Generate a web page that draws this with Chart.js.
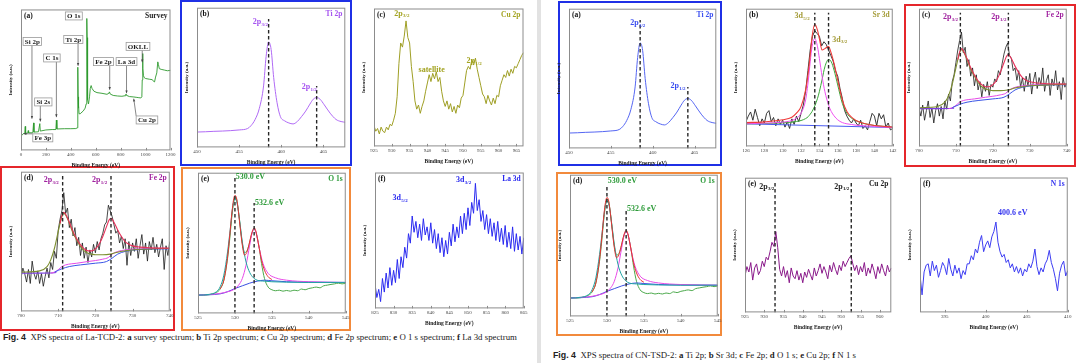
<!DOCTYPE html>
<html>
<head>
<meta charset="utf-8">
<script src="https://cdn.jsdelivr.net/npm/chart.js@4.4.1/dist/chart.umd.min.js"></script>
<style>
  html, body { margin: 0; padding: 0; background: #fff; }
  body { width: 1080px; height: 363px; position: relative; overflow: hidden; font-family: "Liberation Serif", serif; }
  .panel { position: absolute; }
  .panel canvas { display: block; }
  .frame { position: absolute; box-sizing: border-box; }
  .caption { position: absolute; font-size: 8.8px; line-height: 10px; white-space: nowrap; color: #222; }
  .caption .fig { font-family: "Liberation Sans", Arial, sans-serif; font-weight: bold; }
</style>
</head>
<body>
<div class="frame" style="left:537px;top:0;width:4px;height:363px;background:#e2e2e2"></div>
<div class="frame" style="left:180px;top:0;width:172px;height:166px;border:2.5px solid #1f30e6"></div>
<div class="frame" style="left:0;top:166px;width:175px;height:165px;border:2.5px solid #e5262b"></div>
<div class="frame" style="left:181px;top:167px;width:170px;height:164px;border:2.5px solid #f28a3c"></div>
<div class="frame" style="left:558px;top:1px;width:164px;height:165px;border:2.5px solid #1f30e6"></div>
<div class="frame" style="left:904px;top:4px;width:172px;height:163px;border:2.5px solid #e5262b"></div>
<div class="frame" style="left:556px;top:172px;width:166px;height:164px;border:2.5px solid #f28a3c"></div>

<div class="caption" style="left:3px;top:332px"><span class="fig">Fig. 4</span>&nbsp; XPS spectra of La-TCD-2: <b>a</b> survey spectrum; <b>b</b> Ti 2p spectrum; <b>c</b> Cu 2p spectrum; <b>d</b> Fe 2p spectrum; <b>e</b> O 1 s spectrum; <b>f</b> La 3d spectrum</div>
<div class="caption" style="left:553px;top:350px"><span class="fig">Fig. 4</span>&nbsp; XPS spectra of CN-TSD-2: <b>a</b> Ti 2p; <b>b</b> Sr 3d; <b>c</b> Fe 2p; <b>d</b> O 1 s; <b>e</b> Cu 2p; <b>f</b> N 1 s</div>

<script>
// XPS panels, intensities (0 = bottom of frame, 100 = top)

const surveyEnergy = [0,10,20,30,34,37,55,58,61,95,101,104,140,151,155,200,250,280,284,288,350,400,440,452,455,457,459,461,463,466,475,500,515,523,527,529.5,531,533,536,542,550,556,563,570,585,610,650,690,705,710,716,740,775,810,836,842,848,870,906,930,946,962,970,973,976,979,983,990,1000,1030,1054,1066,1072,1080,1090,1098,1103,1110,1125,1150,1175,1200];
const surveyCounts = [11.5,11,12,12,17,12,12.5,14,12.5,12.5,19.5,13,13.2,19,13.7,14.5,14.8,14.8,21.5,15.2,15.4,15.4,15.5,16,25,59,38,30,32,26,26,28,30,33,55,93.6,80,50,36,33,38,44,46,44,42,41,40.5,39.8,40.5,41.5,40,39,38.6,38.4,38.8,40,39,38.2,37.9,37.6,37.4,37.2,38,50,68.7,58,53,51.5,51,50.5,50.2,48.8,48.6,52,55,62.8,61,58,57.5,57,56.5,56.8];

const tiEnergy = [450,451,452,453,454,455,456,456.4,456.9,457.4,457.9,458.2,458.5,458.8,459.1,459.5,459.9,460.4,460.9,461.4,461.9,462.4,462.9,463.4,463.8,464.2,464.6,465.1,465.8,466.5,467.1,467.6];
const tiCounts = [11,11.2,11.5,11.7,12,12.5,13.5,15.5,20,28,44,65,75.5,70,50,32,22,19,17.5,16.8,18.5,22,26,31,34.5,35.7,34.5,30.5,24.5,20,18.5,18];
const tiPeaks = [458.5, 464.2];

// Cu 2p (La-TCD-2), 925 eV onwards every 0.5 eV
const cuACounts = [15,11,13,9,14,11,10,14,12,16,15,19,24,36,60,75,72,80,91,79,75,58,47,33,27,30,24,29,33,40,46,52,47,53,49,54,47,50,40,33,29,33,27,31,25,29,24,30,28,35,37,46,55,58,56,63,59,64,56,50,44,38,36,31,37,33,30,35,31,37,36,44,48,52,50,55,51,56,53,58,57,60,63,66,68];

// Fe 2p raw spectra, 700 eV onwards every 0.5 eV
const feACounts = [24,31,27,21,30,20,36,27,23,29,20,27,18,25,31,24,35,30,43,38,58,66,72,85,70,74,60,66,54,60,47,53,40,49,38,46,35,44,39,48,42,50,44,52,56,62,64,76,72,68,62,56,58,49,54,45,52,33,50,40,49,43,52,38,47,55,41,49,36,50,44,53,42,48,39,46,52,30,47,40,50];
const feBCounts = [28,22,30,19,26,33,21,28,17,26,31,22,29,20,33,27,38,33,47,52,61,70,77,83,68,72,58,63,51,57,44,52,41,47,36,45,40,47,37,45,43,49,47,55,52,60,67,72,75,66,64,55,57,48,55,43,50,40,51,44,53,38,48,54,42,50,45,57,40,48,52,37,49,44,55,41,47,34,50,43,46];
const feOliveEnergy = [700,705,707,708,709,710,711,711.5,712,713,714,715,716,717,718,719,720,722,724,726,728,730,733,736,740];
const feOliveCounts = [28.1,29,32.1,36.9,45.2,57.1,67.9,70.2,69,63.1,56,51.2,46.4,43.3,41.7,41,40.5,40.5,41,42.4,43.3,44,44.5,44.8,45.2];
const feRedEnergy = [710.5,711,711.5,712,713,714,715,716,717,718,719,720,721,722,723,723.7,724.2,725,726,727,728,729,730,732,735,740];
const feRedCounts = [63,68.6,71,69.5,63.8,57.1,51.9,47.6,44.8,43.3,43.3,44.8,48.1,53.6,60.7,65.5,66.7,63.8,58.3,53.6,50,48.1,46.9,46,45.5,45.2];
const feMagentaEnergy = [708,709,710,711,712,715,718,720,722,723.5,724.5,726,728,732,740];
const feMagentaCounts = [27.4,28.1,29.8,32.1,33.3,34.5,35.7,36.4,37.4,38.6,41,42.9,44,44.8,45.2];
const fePurpleEnergy = [700,704,708,709.5];
const fePurpleCounts = [27.4,27.4,27.5,27.8];
const feBlueEnergy = [709,711,713,716,720,723,724.5,726,728,732,740];
const feBlueCounts = [28.1,30.5,32.1,33.3,34.5,35.7,38.1,41,42.9,44.3,44.8];
const fePeaks = [711.2, 724.2];

// O 1s
const oExpEnergy = [525,526,527,527.5,528,528.5,529,529.3,529.6,529.8,530,530.2,530.4,530.7,531,531.3,531.6,531.9,532.2,532.4,532.6,532.8,533,533.3,533.6,534,534.5,535,535.5,536,536.5,537,537.5,538,538.5,539,539.5,540,540.5,541,541.5,542,542.5,543,543.5,544,544.5,545];
const oExpCounts = [13,13,13.9,14.9,17.3,23.6,39,53.2,69.7,78,82.7,81.6,75.7,62.6,49.6,43.3,44.2,48.5,55.1,58.4,59.8,58.4,54.4,46.1,35.5,24.8,18.7,16.8,16.1,16.5,15.8,16.3,15.8,16.5,16.1,17.3,16.8,17.7,18.2,18.7,18.2,19.6,20.1,20.6,21,21.5,21,21.5];
const oFitEnergy = [528,528.5,529,529.3,529.6,529.8,530,530.2,530.4,530.7,531,531.3,531.6,531.9,532.2,532.4,532.6,532.8,533,533.3,533.6,534,534.5,535];
const oFitCounts = [17.3,23.6,40.2,55.6,72.1,80.4,83.9,82.3,75.7,61.5,48.5,41.4,43.3,48.9,55.6,59.1,60.8,59.1,54.4,46.1,37.8,30.7,26,24.1];
const oLatticeEnergy = [525,526.5,527.5,528,528.5,529,529.4,529.7,530,530.3,530.6,531,531.5,532,532.5,533,534,535,537,540,545];
const oLatticeCounts = [13,13.5,15.4,18.9,27.2,43.7,61.5,75.7,81.6,78,67.4,50.8,36.6,29.1,25.3,23.6,22.9,22.5,22.2,22,22];
const oAdsorbEnergy = [525,528,529,529.7,530.5,531,531.5,532,532.3,532.6,532.9,533.3,533.8,534.5,535.5,537,540,545];
const oAdsorbCounts = [13,14.2,15.4,16.5,20.1,24.8,34.3,48.5,56.7,59.8,56.7,46.1,35.5,28.4,25.3,23.6,22.5,22];
const oBgEnergy = [525,528,529,530,531,532,533,534,535,537,540,545];
const oBgCounts = [13,13.9,15.4,17.7,19.6,21.5,22.9,23.6,23.2,22.5,22.2,22];
const oPeaks = [530.0, 532.6];

// La 3d, 825 eV onwards every 0.5 eV
const laCounts = [18,8,14,5,22,12,26,15,30,17,28,19,36,22,38,30,45,37,55,48,68,56,64,52,62,50,66,54,60,50,63,48,58,44,55,41,52,38,50,40,56,46,62,49,60,52,68,55,70,58,74,61,78,70,92,72,80,64,72,58,69,55,66,53,63,50,64,49,59,47,61,45,56,44,60,42,55,43,53,40,52];

// Sr 3d, 126 eV onwards every 0.25 eV
const srCounts = [18,22,25,19,27,21,15,20,17,24,26,18,21,15,20,16,19,14,18,13,20,16,22,18,24,30,40,55,70,80,84,82,80,73,76,74,70,66,62,55,51,42,35,26,22,19,17,20,17,15,19,13,15,12,18,24,22,15,24,20,23,14,17,12,13];
const srFitEnergy = [126,128,130,131,131.5,132,132.5,132.8,133,133.2,133.5,133.8,134,134.3,134.6,135,135.3,135.6,136,136.5,137,137.5,138,139,140,142];
const srFitCounts = [17.3,17.8,19.3,21.2,24.1,28.9,41,54.2,66.3,79.5,88.7,84.3,78.3,70,71,72.5,67.5,60.2,48.2,33.7,25.3,21.2,18.8,16.4,15.2,14];
const sr52Counts = [16.4,16.9,17.6,18.8,20.5,24.1,33.7,48.2,61.4,72.3,78.3,72.3,63.9,50.6,39.8,30.1,25.3,22.2,19.3,17.3,16.4,15.9,15.4,14.9,14.5,13.7];
const sr32Counts = [16.4,16.6,17.1,17.6,18.1,18.8,20.2,21.7,23.4,25.3,29.4,34.9,39.8,48.7,57.8,63.1,61.4,55.4,44.6,31.3,24.1,20.5,18.6,16.4,15.2,14];
const srBgEnergy = [126, 142];
const srBgCounts = [16.4, 13.7];
const srPeaks = [133.5, 135.0];

// Cu 2p (CN-TSD-2), 925 eV onwards every 0.5 eV
const cuBCounts = [27,34,30,37,24,33,36,28,31,38,34,41,39,45,52,49,60,48,32,27,34,26,31,22,33,27,25,31,24,29,22,30,26,32,28,24,33,27,31,36,29,34,30,25,35,30,37,32,28,35,31,38,34,37,40,42,36,31,35,28,34,30,37,27,33,29,36,31,25,34,29,36,31,27,35,30,33];
const cuPeaks = [932.8, 952.6];

// N 1s, 392 eV onwards every 0.25 eV
const nCounts = [28,13,30,35,36,27,38,31,35,26,31,37,34,28,40,32,27,35,29,33,25,31,28,36,36,42,39,47,44,52,57,45,50,53,48,56,60,67,52,45,41,43,37,39,33,36,30,34,29,33,27,32,30,36,33,38,47,34,28,33,30,36,39,46,37,32,25,16,29,35,38,27,31];

const SERIF = '"Liberation Serif", "Times New Roman", serif';
Chart.defaults.font.family = SERIF;

function pts(xs, ys) { return ys.map((v, i) => ({ x: xs[i], y: v })); }
function steps(x0, dx, ys) { return ys.map((v, i) => ({ x: x0 + i * dx, y: v })); }

function line(data, color, width, smooth) {
  return {
    data, borderColor: color, borderWidth: width || 1, pointRadius: 0, fill: false,
    tension: 0, cubicInterpolationMode: smooth ? 'monotone' : 'default'
  };
}

function dashes(peaks, tops) {
  return peaks.map((e, i) => ({
    data: [{ x: e, y: 0 }, { x: e, y: tops[i] }],
    borderColor: '#262626', borderWidth: 1.4, borderDash: [3.5, 2.5], pointRadius: 0, fill: false
  }));
}

function drawLabel(ctx, px, py, l, color) {
  const big = 'bold ' + (l.size || 8) + 'px ' + SERIF;
  const small = 'bold 5px ' + SERIF;
  ctx.font = big;
  const w1 = ctx.measureText(l.t).width;
  let w2 = 0;
  if (l.sub) { ctx.font = small; w2 = ctx.measureText(l.sub).width; }
  const x0 = l.align === 'left' ? px : px - (w1 + w2) / 2;
  ctx.fillStyle = l.color || color;
  ctx.textAlign = 'left';
  ctx.textBaseline = 'middle';
  ctx.font = big;
  ctx.fillText(l.t, x0, py);
  if (l.sub) { ctx.font = small; ctx.fillText(l.sub, x0 + w1 + 0.3, py + 2.5); }
}

function drawBox(ctx, xs, ys, b) {
  const cx = xs.getPixelForValue(b.x), cy = ys.getPixelForValue(b.y);
  ctx.font = 'bold 7px ' + SERIF;
  const w = ctx.measureText(b.t).width + 3.5, h = 8;
  const x0 = cx - w / 2, y0 = cy - h / 2, x1 = x0 + w, y1 = y0 + h;
  if (b.tx !== undefined) {
    const tx = xs.getPixelForValue(b.tx), ty = ys.getPixelForValue(b.ty);
    let sx, sy;
    if (ty > y1 || ty < y0) {
      sx = Math.min(Math.max(tx, x0), x1);
      sy = ty > y1 ? y1 : y0;
    } else {
      sx = tx < x0 ? x0 : x1;
      sy = Math.min(Math.max(ty, y0), y1);
    }
    ctx.strokeStyle = '#555'; ctx.lineWidth = 0.7;
    ctx.beginPath(); ctx.moveTo(sx, sy); ctx.lineTo(tx, ty); ctx.stroke();
    const ang = Math.atan2(ty - sy, tx - sx);
    ctx.fillStyle = '#444';
    ctx.beginPath();
    ctx.moveTo(tx, ty);
    ctx.lineTo(tx - 3 * Math.cos(ang - 0.4), ty - 3 * Math.sin(ang - 0.4));
    ctx.lineTo(tx - 3 * Math.cos(ang + 0.4), ty - 3 * Math.sin(ang + 0.4));
    ctx.closePath(); ctx.fill();
  }
  ctx.fillStyle = '#fff';
  ctx.fillRect(x0, y0, w, h);
  ctx.strokeStyle = '#9a9a9a'; ctx.lineWidth = 0.8;
  ctx.strokeRect(x0, y0, w, h);
  ctx.fillStyle = '#1a1a1a';
  ctx.textAlign = 'center'; ctx.textBaseline = 'middle';
  ctx.fillText(b.t, cx, cy + 0.5);
}

const decor = {
  id: 'decor',
  afterDatasetsDraw(chart, args, o) {
    const { ctx, chartArea: a, scales: { x, y } } = chart;
    ctx.save();
    ctx.strokeStyle = '#8c8c8c';
    ctx.lineWidth = 1;
    ctx.strokeRect(a.left + 0.5, a.top + 0.5, a.width - 1, a.height - 1);
    ctx.beginPath();
    x.ticks.forEach((t, i) => {
      const px = Math.round(x.getPixelForTick(i)) + 0.5;
      ctx.moveTo(px, a.bottom); ctx.lineTo(px, a.bottom - 2.5);
    });
    ctx.stroke();
    ctx.font = 'bold 7.5px ' + SERIF;
    ctx.textBaseline = 'top';
    ctx.textAlign = 'left';
    ctx.fillStyle = '#111';
    ctx.fillText(o.letter, a.left + 3, a.top + 3);
    ctx.textAlign = 'right';
    ctx.fillStyle = o.color;
    ctx.fillText(o.name, a.right - 3, a.top + 3);
    (o.boxes || []).forEach(b => drawBox(ctx, x, y, b));
    (o.labels || []).forEach(l => drawLabel(ctx, x.getPixelForValue(l.x), y.getPixelForValue(l.y), l, o.color));
    ctx.restore();
  }
};

const surveyBoxes = [
  { t: 'O 1s', x: 424, y: 95.4 },
  { t: 'Si 2p', x: 91, y: 77.3, tx: 88, ty: 22.5 },
  { t: 'Ti 2p', x: 420, y: 78.7, tx: 458, ty: 60 },
  { t: 'C 1s', x: 248, y: 65.6, tx: 284, ty: 23.6 },
  { t: 'Fe 2p', x: 662, y: 63, tx: 712, ty: 43 },
  { t: 'La 3d', x: 847, y: 63, tx: 847, ty: 40.6 },
  { t: 'OKLL', x: 939, y: 73.8, tx: 973, ty: 62.6 },
  { t: 'Si 2s', x: 179, y: 34.4, tx: 155, ty: 20.5 },
  { t: 'Fe 3p', x: 175, y: 8.9, tx: 21, ty: 11.8 },
  { t: 'Cu 2p', x: 1011, y: 21.6, tx: 905, ty: 36.7 }
];

function feSets(raw) {
  return [
    ...dashes(fePeaks, [97, 97]),
    line(pts(feRedEnergy, feRedCounts), '#e8305a', 1.1, true),
    line(pts(feOliveEnergy, feOliveCounts), '#7d8f30', 1.1, true),
    line(pts(feBlueEnergy, feBlueCounts), '#3b55e6', 1, true),
    line(pts(feMagentaEnergy, feMagentaCounts), '#e64ae6', 1, true),
    line(pts(fePurpleEnergy, fePurpleCounts), '#7b3fe0', 1.1, true),
    line(steps(700, 0.5, raw), '#1a1a1a', 0.8)
  ];
}

function oSets(tops) {
  return [
    ...dashes(oPeaks, tops),
    line(pts(oFitEnergy, oFitCounts), '#e83030', 1, true),
    line(pts(oLatticeEnergy, oLatticeCounts), '#1fa3a3', 1, true),
    line(pts(oAdsorbEnergy, oAdsorbCounts), '#e84ae8', 1, true),
    line(pts(oBgEnergy, oBgCounts), '#3a4fe0', 1, true),
    line(pts(oExpEnergy, oExpCounts), '#4aa84a', 1, true)
  ];
}

const sub32 = '3/2', sub12 = '1/2', sub52 = '5/2';

const panels = [
  { rect: [20.7, 9, 170, 150], x: [0, 1200, 200], letter: '(a)', name: 'Survey', color: '#222',
    sets: [line(pts(surveyEnergy, surveyCounts), '#2e9a2e', 0.9)], boxes: surveyBoxes },
  { rect: [196.7, 8, 345.7, 148], x: [450, 467.6, 5], letter: '(b)', name: 'Ti 2p', color: '#a553f0',
    sets: [...dashes(tiPeaks, [92, 44]), line(pts(tiEnergy, tiCounts), '#b06af5', 1, true)],
    labels: [{ t: '2p', sub: sub32, x: 457.5, y: 89.5 }, { t: '2p', sub: sub12, x: 463.3, y: 43.4 }] },
  { rect: [374, 8.3, 524, 146.7], x: [925, 967, 5], letter: '(c)', name: 'Cu 2p', color: '#a3a321',
    sets: [line(steps(925, 0.5, cuACounts), '#9f9f25', 1)],
    labels: [{ t: '2p', sub: sub32, x: 932.8, y: 96.4 }, { t: 'satellite', x: 941.2, y: 55.4 }, { t: '2p', sub: sub12, x: 953.1, y: 62.1 }] },
  { rect: [20.7, 171.7, 169.3, 311.7], x: [700, 740, 10], letter: '(d)', name: 'Fe 2p', color: '#a0229f',
    sets: feSets(feACounts),
    labels: [{ t: '2p', sub: sub32, x: 708.1, y: 94 }, { t: '2p', sub: sub12, x: 721.1, y: 94 }] },
  { rect: [198.3, 172.3, 346, 313.3], x: [525, 545, 5], letter: '(e)', name: 'O 1s', color: '#2e9b3a',
    sets: oSets([97, 78.5]),
    labels: [{ t: '530.0 eV', x: 530.1, y: 97, align: 'left' }, { t: '532.6 eV', x: 532.7, y: 78.5, align: 'left' }] },
  { rect: [375, 172.3, 523.3, 309], x: [825, 865, 5], letter: '(f)', name: 'La 3d', color: '#2727ef',
    sets: [line(steps(825, 0.5, laCounts), '#2b2bf0', 1)],
    labels: [{ t: '3d', sub: sub52, x: 831.7, y: 81 }, { t: '3d', sub: sub32, x: 848.8, y: 94.4 }] },
  { rect: [569, 8.3, 716.7, 148.3], x: [450, 467.6, 5], letter: '(a)', name: 'Ti 2p', color: '#3a4ef0',
    sets: [...dashes(tiPeaks, [92, 44]), line(pts(tiEnergy, tiCounts), '#5566f2', 1, true)],
    labels: [{ t: '2p', sub: sub32, x: 458.2, y: 89.7 }, { t: '2p', sub: sub12, x: 463, y: 44.5 }] },
  { rect: [746, 8.3, 892.3, 146.7], x: [126, 142, 2], letter: '(b)', name: 'Sr 3d', color: '#a39a35',
    sets: [...dashes(srPeaks, [97, 97]),
      line(pts(srFitEnergy, srFitCounts), '#f03a3a', 1.1, true),
      line(pts(srFitEnergy, sr52Counts), '#f050f0', 1, true),
      line(pts(srFitEnergy, sr32Counts), '#3aa83a', 1, true),
      line(pts(srBgEnergy, srBgCounts), '#4a5af0', 1),
      line(steps(126, 0.25, srCounts), '#222', 0.9)],
    labels: [{ t: '3d', sub: sub52, x: 132.1, y: 94.4 }, { t: '3d', sub: sub32, x: 136.2, y: 77.6 }] },
  { rect: [919, 8.3, 1066.7, 146.7], x: [700, 740, 10], letter: '(c)', name: 'Fe 2p', color: '#a0229f',
    sets: feSets(feBCounts),
    labels: [{ t: '2p', sub: sub32, x: 708.5, y: 94 }, { t: '2p', sub: sub12, x: 721.6, y: 94 }] },
  { rect: [570, 174.3, 717.3, 316.7], x: [525, 545, 5], letter: '(d)', name: 'O 1s', color: '#2e9b3a',
    sets: oSets([93, 76]),
    labels: [{ t: '530.0 eV', x: 530.1, y: 95.3, align: 'left' }, { t: '532.6 eV', x: 532.7, y: 76.1, align: 'left' }] },
  { rect: [745, 177.7, 892.3, 313.3], x: [925, 963, 5], letter: '(e)', name: 'Cu 2p', color: '#222',
    sets: [...dashes(cuPeaks, [97, 97]), line(steps(925, 0.5, cuBCounts), '#8a1a8a', 1)],
    labels: [{ t: '2p', sub: sub32, x: 930.6, y: 93.4 }, { t: '2p', sub: sub12, x: 950.1, y: 93.4 }] },
  { rect: [920, 177.7, 1067.3, 313.3], x: [392, 410, 5], letter: '(f)', name: 'N 1s', color: '#3535ef',
    sets: [line(steps(392, 0.25, nCounts), '#3d3df2', 1)],
    labels: [{ t: '400.6 eV', x: 403.3, y: 73.7 }] }
];

function mount(p) {
  const [l, t, r, b] = p.rect;
  const holder = document.createElement('div');
  holder.className = 'panel';
  const cv = document.createElement('canvas');
  holder.appendChild(cv);
  document.body.appendChild(holder);
  const w0 = Math.round(r - l + 20), h0 = Math.round(b - t + 20);
  cv.width = w0; cv.height = h0;

  const chart = new Chart(cv, {
    type: 'line',
    data: { datasets: p.sets },
    options: {
      responsive: false,
      maintainAspectRatio: false,
      animation: false,
      events: [],
      layout: { padding: 0 },
      plugins: {
        legend: { display: false },
        tooltip: { enabled: false },
        decor: { letter: p.letter, name: p.name, color: p.color, labels: p.labels, boxes: p.boxes }
      },
      scales: {
        x: {
          type: 'linear', min: p.x[0], max: p.x[1],
          border: { display: false },
          grid: { display: false, drawTicks: false },
          ticks: {
            stepSize: p.x[2], includeBounds: false, autoSkip: false, maxRotation: 0,
            padding: 1.5, color: '#444', font: { size: 5 }, callback: v => String(v)
          },
          title: {
            display: true, text: 'Binding Energy (eV)', color: '#222',
            font: { size: 5.5, weight: 'bold' }, padding: { top: 3, bottom: 0 }
          }
        },
        y: {
          min: 0, max: 100,
          border: { display: false },
          grid: { display: false, drawTicks: false },
          ticks: { display: false },
          title: {
            display: true, text: 'Intensity (a.u.)', color: '#222',
            font: { size: 5, weight: 'bold' }, padding: { top: 2, bottom: 7 }
          }
        }
      }
    },
    plugins: [decor]
  });

  // fit the canvas so the plot frame lands on the reference frame
  let a = chart.chartArea;
  const w = Math.round(r - l + w0 - (a.right - a.left));
  const h = Math.round(b - t + h0 - (a.bottom - a.top));
  chart.resize(w, h);
  a = chart.chartArea;
  holder.style.left = (l - a.left) + 'px';
  holder.style.top = (t - a.top) + 'px';
}

panels.forEach(mount);
</script>
</body>
</html>
